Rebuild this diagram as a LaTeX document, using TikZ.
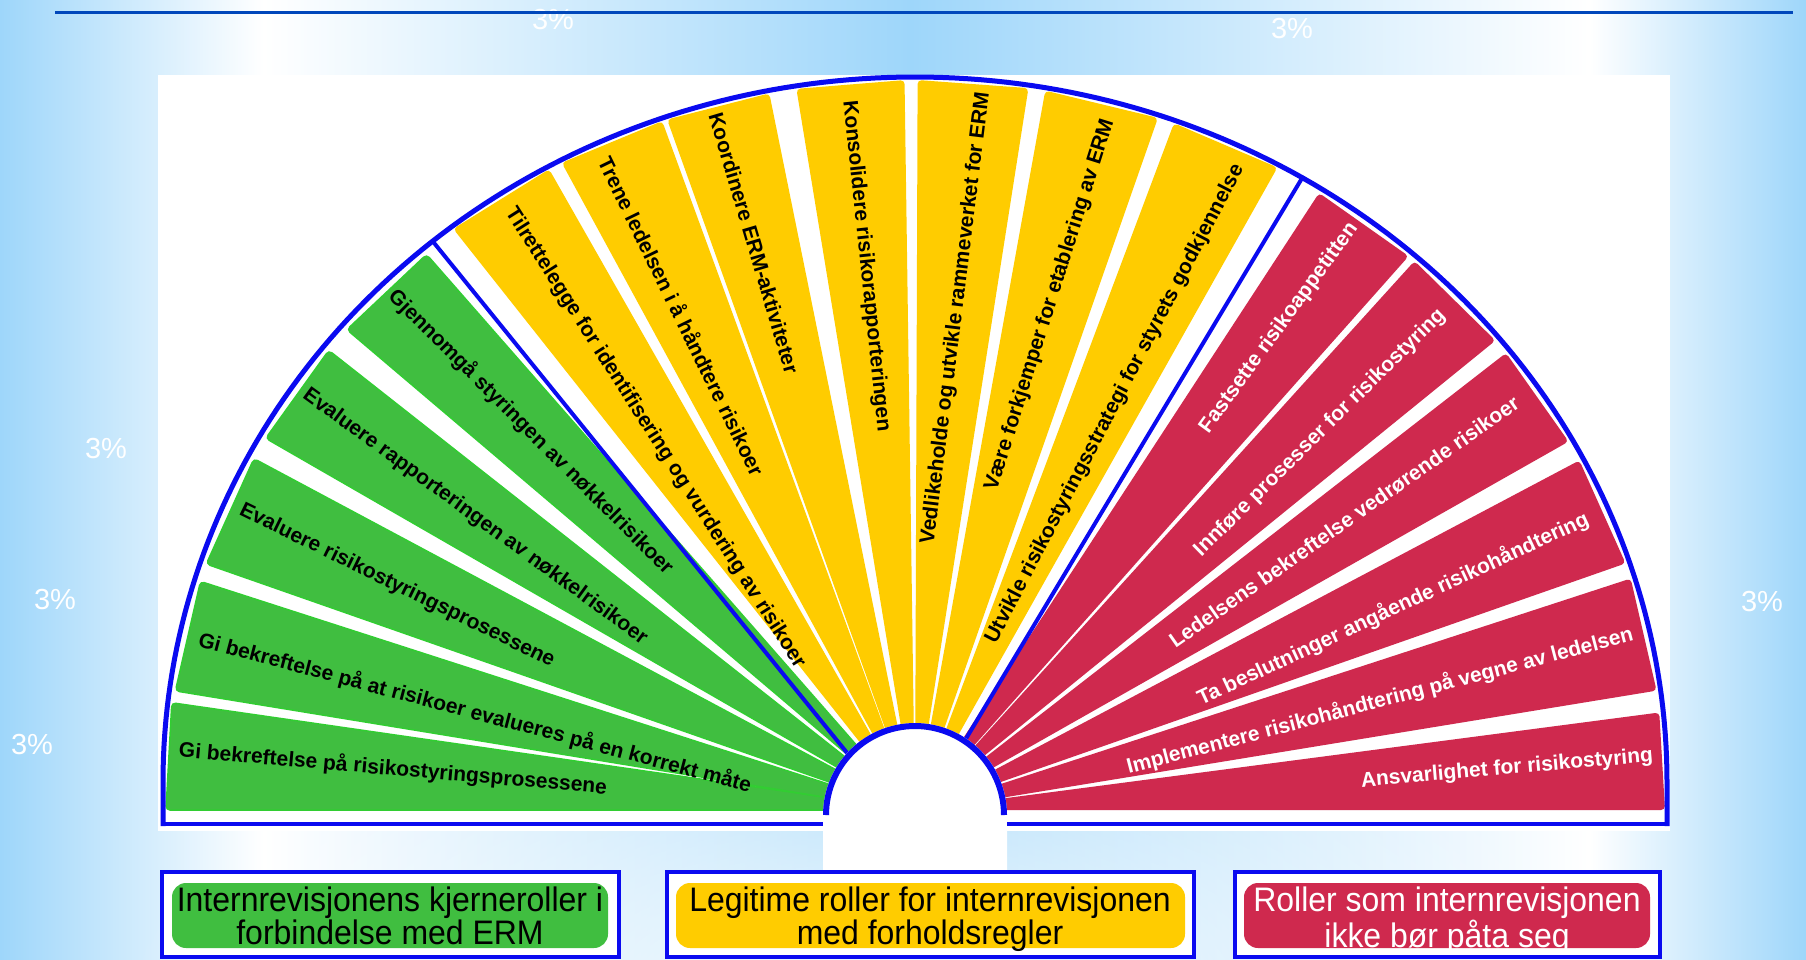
\documentclass[tikz,border=0pt]{standalone}
\usepackage{fontspec}
\setmainfont{Liberation Sans}
\newfontfamily\legfont[FakeStretch=0.94]{Liberation Sans}
\usetikzlibrary{fadings}
\definecolor{bgblue}{RGB}{158,214,250}
\definecolor{gfill}{RGB}{64,190,64}
\definecolor{gline}{RGB}{50,205,50}
\definecolor{yfill}{RGB}{255,204,0}
\definecolor{rfill}{RGB}{207,41,78}
\definecolor{bline}{RGB}{10,10,240}
\definecolor{topline}{RGB}{0,71,187}
\pgfdeclarehorizontalshading{bgshade}{100bp}{color(0bp)=(bgblue); color(25bp)=(bgblue); color(32.3bp)=(white); color(50.2bp)=(bgblue); color(69bp)=(white); color(75bp)=(bgblue); color(100bp)=(bgblue)}
\tikzfading[name=glow, inner color=transparent!0, outer color=transparent!100]
\begin{document}
\begin{tikzpicture}[x=1pt,y=-1pt,
  gseg/.style={fill=gfill, draw=gline, line width=1.5pt, rounded corners=4pt},
  yseg/.style={fill=yfill, rounded corners=4pt},
  rseg/.style={fill=rfill, rounded corners=4pt},
  seglbl/.style={font=\bfseries\fontsize{21}{24}\selectfont, inner sep=0pt},
  dark/.style={seglbl, text=black},
  light/.style={seglbl, text=white},
  pct/.style={text=white, font=\fontsize{29}{30}\selectfont, inner sep=0pt},
  bl/.style={draw=bline, line width=#1},
  legframe/.style={draw=bline, line width=4pt, fill=white},
  legfill/.style={rounded corners=14pt},
  legtxt/.style={font=\legfont\fontsize{34}{29}\selectfont, align=center, inner sep=0pt, anchor=north}]
\useasboundingbox (0,0) rectangle (1806,959);
\shade[shading=bgshade] (0,0) rectangle (1806,959);
\fill[white, path fading=glow, opacity=0.85] (880,1000) ellipse [x radius=760, y radius=330];
% percent labels
\node[pct] (p1) at (553,20) {3\%};
\node[pct] (p2) at (1292,29) {3\%};
\node[pct] (p3) at (106,449) {3\%};
\node[pct] (p4) at (55,600) {3\%};
\node[pct] (p5) at (1762,602) {3\%};
\node[pct] (p6) at (32,745) {3\%};
\draw[topline, line width=3pt] (55,12) -- (1793,12);
% white panel
\fill[white] (158,75) rectangle (1670,831);
% green segments
\fill[gseg] (915,810) -- (166,810) -- ({915+748*cos(173.5)},{782-700*sin(173.5)}) -- cycle;
\foreach \a/\b in {172.5/163.3, 161.8/152.4, 150.5/141.8, 139.6/130.9}
  \fill[gseg] (915,812) -- ({915+746*cos(\a)},{782-698*sin(\a)}) -- ({915+746*cos(\b)},{782-698*sin(\b)}) -- cycle;
% yellow segments
\foreach \a/\b in {128/119.2, 118.1/109.7, 109.3/101.2, 99.1/90.8, 89.8/81.3, 80/71.1, 69.8/61.1}
  \fill[yseg] (915,812) -- ({915+750*cos(\a)},{782-702*sin(\a)}) -- ({915+750*cos(\b)},{782-702*sin(\b)}) -- cycle;
% red segments
\foreach \a/\b/\k in {57.3/48.7/1.0, 48.1/39.1/1.0, 37.8/29.1/1.0, 27.35/18.2/1.0, 16.9/7.5/1.0}
  \fill[rseg] (915,812) -- ({915+748*\k*cos(\a)},{782-700*\k*sin(\a)}) -- ({915+748*\k*cos(\b)},{782-700*\k*sin(\b)}) -- cycle;
\fill[rseg] (915,810) -- ({915+748*cos(5.7)},{782-700*sin(5.7)}) -- (1665,810) -- cycle;
% labels
\node[dark, rotate=-5] (tg1) at (393,769) {Gi bekreftelse på risikostyringsprosessene};
\node[dark, rotate=-14.8] (tg2) at (475,713) {Gi bekreftelse på at risikoer evalueres på en korrekt måte};
\node[dark, rotate=-26] (tg3) at (397,586) {Evaluere risikostyringsprosessene};
\node[dark, rotate=-36] (tg4) at (475,517) {Evaluere rapporteringen av nøkkelrisikoer};
\node[dark, rotate=-45] (tg5) at (531,432) {Gjennomgå styringen av nøkkelrisikoer};
\node[dark, rotate=-57.5] (ty1) at (655,438) {Tilrettelegge for identifisering og vurdering av risikoer};
\node[dark, rotate=-64] (ty2) at (682,316) {Trene ledelsen i å håndtere risikoer};
\node[dark, rotate=-73.5] (ty3) at (754,243) {Koordinere ERM-aktiviteter};
\node[dark, rotate=-84] (ty4) at (866,266) {Konsolidere risikorapporteringen};
\node[dark, rotate=83] (ty5) at (956,318) {Vedlikeholde og utvikle rammeverket for ERM};
\node[dark, rotate=72.5] (ty6) at (1050,305) {Være forkjemper for etablering av ERM};
\node[dark, rotate=62.5] (ty7) at (1115,404) {Utvikle risikostyringsstrategi for styrets godkjennelse};
\node[light, rotate=54] (tr1) at (1279,328) {Fastsette risikoappetitten};
\node[light, rotate=44.5] (tr2) at (1320,433) {Innføre prosesser for risikostyring};
\node[light, rotate=35] (tr3) at (1344,522) {Ledelsens bekreftelse vedrørende risikoer};
\node[light, rotate=25] (tr4) at (1393,609) {Ta beslutninger angående risikohåndtering};
\node[light, rotate=14.8] (tr5) at (1380,701) {Implementere risikohåndtering på vegne av ledelsen};
\node[light, rotate=5] (tr6) at (1507,769) {Ansvarlighet for risikostyring};
% group borders
\draw[bl=4pt] ({915+752*cos(129.9)},{782-705*sin(129.9)}) -- (899,817);
\draw[bl=4pt] ({915+752*cos(59.0)},{782-705*sin(59.0)}) -- (919,817);
% inner hub
\fill[white] (823,816) -- plot[domain=180:0, samples=61] ({915+92*cos(\x)},{815-92*sin(\x)}) -- (1007,816) -- (1007,874) -- (823,874) -- cycle;
\draw[bl=6pt] plot[domain=180:0, samples=61] ({915+89*cos(\x)},{815-89*sin(\x)});
% outer frame
\draw[bl=5pt, line join=round] (163,826) -- (163,782) -- plot[domain=180:0, samples=181] ({915+752*cos(\x)},{782-705*sin(\x)}) -- (1667,826);
\draw[bl=4pt] (161,824) -- (823,824);
\draw[bl=4pt] (1007,824) -- (1669,824);
% legend
\draw[legframe] (162,872) rectangle (619,957);
\fill[legfill, fill=gfill] (172,883) rectangle (608,948);
\node[legtxt, text=black] (lg) at (390,887) {Internrevisjonens kjerneroller i\\forbindelse med ERM};
\draw[legframe] (667,872) rectangle (1194,957);
\fill[legfill, fill=yfill] (676,883) rectangle (1185,948);
\node[legtxt, text=black] (ly) at (930,887) {Legitime roller for internrevisjonen\\med forholdsregler};
\draw[legframe] (1235,872) rectangle (1660,957);
\fill[legfill, fill=rfill] (1244,883) rectangle (1650,948);
\node[legtxt, text=white] (lr) at (1447,887) {Roller som internrevisjonen\\ikke bør påta seg};
\end{tikzpicture}
\end{document}
